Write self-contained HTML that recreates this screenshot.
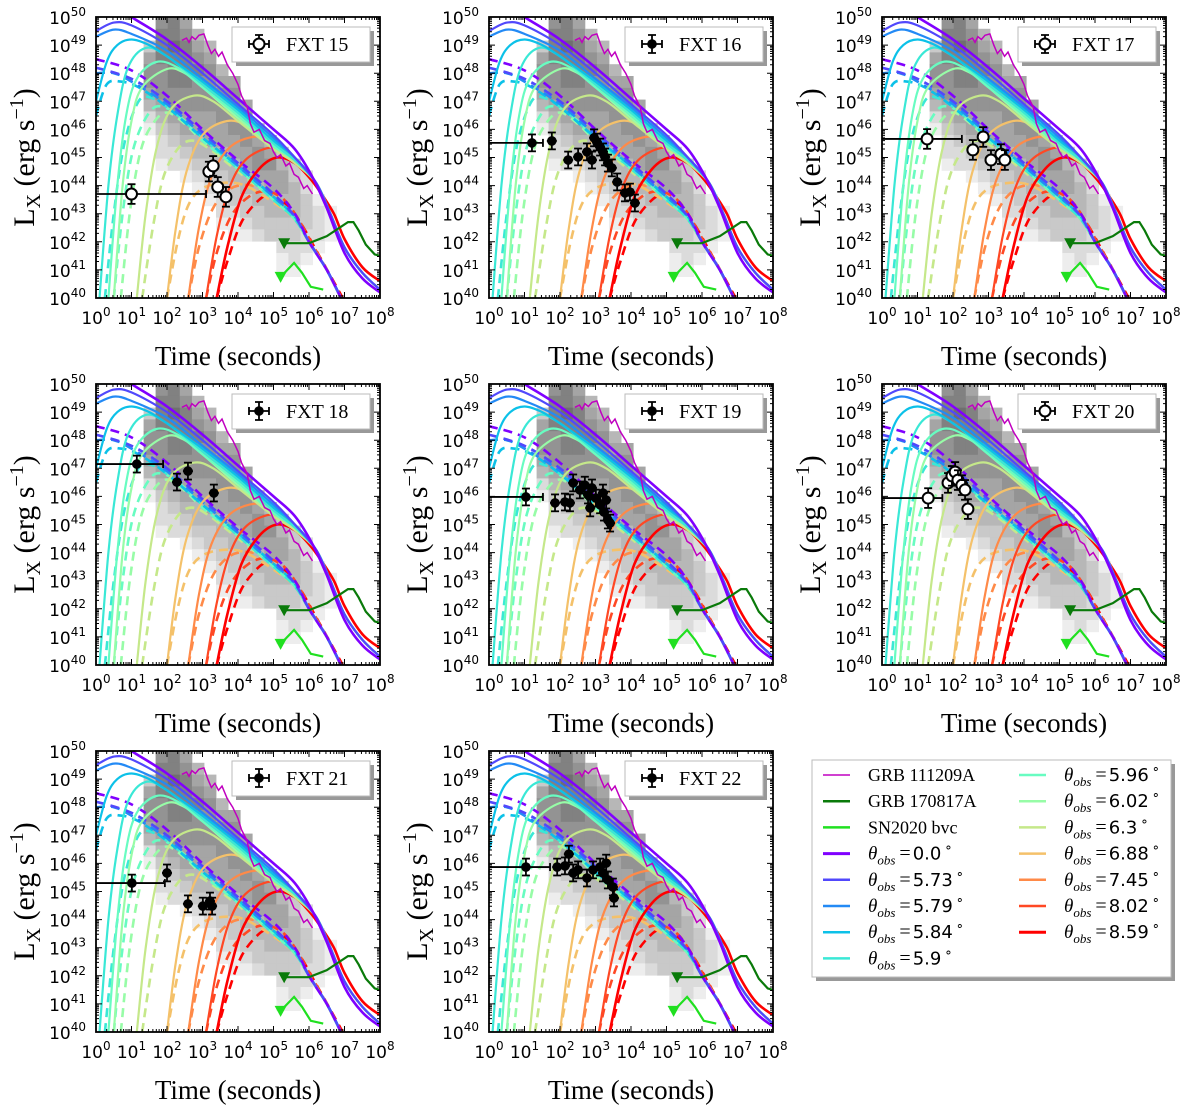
<!DOCTYPE html>
<html><head><meta charset="utf-8"><style>
html,body{margin:0;padding:0;background:#fff;}
svg{display:block;}
</style></head><body>
<svg id="fig" width="1200" height="1110" viewBox="0 0 1200 1110" xmlns="http://www.w3.org/2000/svg"></svg>
<script>
// ---------- data ----------
const thetaLabels = ["0.0","5.73","5.79","5.84","5.9","5.96","6.02","6.3","6.88","7.45","8.02","8.59"];
const thetaColors = ["#8000ff","#5148fc","#238af5","#0cc1e8","#3ae8d6","#68fcc1","#97fca7","#c5e88a","#f4c16a","#ff8a48","#ff4824","#ff0000"];
const tailA = [[6.6,43.0],[7,41.8],[7.5,40.9],[8,40.3]];
const solid0 = [[0.3,50.6],[1,50.0],[2,49.2],[3,48.2],[4,47.1],[5,46.0],[5.6,45.3],[6.1,44.3],[6.5,43.2],[7,41.6],[7.5,40.7],[8,40.2]];
const solid1 = [[0,49.5],[0.5,49.8],[1,49.7],[2,49.0],[3,48.0],[4,46.9],[5,45.8],[5.6,45.0],[6.2,44.1]];
const solid2 = [[0,49.3],[0.5,49.55],[1,49.4],[2,48.8],[3,47.8],[4,46.8],[5,45.7],[5.6,45.0],[6.2,44.1]];
const solid3 = [[0,47.0],[0.3,48.4],[0.6,49.0],[1,49.2],[1.5,49.0],[2,48.6],[3,47.7],[4,46.7],[5,45.6],[5.6,45.0],[6.2,44.1]];
const solid4 = [[0.1,40],[0.35,44],[0.6,46.5],[0.9,48.2],[1.4,48.9],[2,48.6],[3,47.6],[4,46.6],[5,45.5],[5.6,44.9],[6.2,44.1]];
const solid5 = [[0.35,40],[0.6,44],[0.85,46.5],[1.15,47.8],[1.7,48.4],[2.3,48.2],[3,47.5],[4,46.5],[5,45.4],[5.6,44.9],[6.2,44.1]];
const solid6 = [[0.5,40],[0.75,44],[1.0,46.3],[1.3,47.5],[2.0,48.15],[2.5,48.0],[3,47.5],[4,46.4],[5,45.4],[5.6,44.9],[6.2,44.1]];
const solid7 = [[1.15,40],[1.4,43],[1.7,45.3],[2.1,46.7],[2.75,47.2],[3.3,47.0],[4,46.3],[5,45.3],[5.6,44.8],[6.2,44.1]];
const solid8 = [[2.0,40],[2.25,42.5],[2.55,44.5],[3.0,45.8],[3.7,46.3],[4.3,46.1],[5,45.4],[5.6,44.8],[6.2,44.1]];
const solid9 = [[2.6,40],[2.9,42.5],[3.25,44.3],[3.8,45.4],[4.6,45.75],[5.2,45.4],[5.7,44.8],[6.2,44.1]];
const solid10 = [[3.1,40],[3.4,42.2],[3.75,43.9],[4.2,44.9],[4.9,45.35],[5.4,45.1],[5.8,44.6],[6.2,44.1]];
const solid11 = [[3.4,40],[3.7,41.8],[4.1,43.6],[4.6,44.6],[5.1,45.0],[5.6,44.8],[6.0,44.3],[6.3,43.8],[6.7,43.0],[7,42.1],[7.5,41.1],[8,40.6]];
const tailD = [[6.0,42.0],[6.5,41.0],[6.9,40.0]];
const dash0 = [[0,48.5],[1,48.1],[2,47.2],[3,46.0],[4,44.9],[5,43.9],[5.6,43.0]];
const dash1 = [[0,48.2],[1,47.8],[2,47.0],[3,45.9],[4,44.8],[5,43.7],[5.6,42.9]];
const dash2 = [[0,48.0],[0.5,48.0],[1,47.7],[2,46.9],[3,45.8],[4,44.7],[5,43.6],[5.6,42.9]];
const dash3 = [[0,46.5],[0.3,47.6],[0.7,47.7],[1.2,47.5],[2,46.8],[3,45.7],[4,44.7],[5,43.6],[5.6,42.9]];
const dash4 = [[0.25,40],[0.5,43],[0.8,45.5],[1.2,47.0],[1.6,47.1],[2.2,46.6],[3,45.7],[4,44.6],[5,43.5],[5.6,42.8]];
const dash5 = [[0.5,40],[0.75,43],[1.05,45.3],[1.5,46.6],[1.9,46.8],[2.5,46.3],[3,45.6],[4,44.6],[5,43.5],[5.6,42.8]];
const dash6 = [[0.7,40],[0.95,43],[1.25,45.2],[1.6,46.2],[2.0,46.6],[2.5,46.2],[3,45.6],[4,44.6],[5,43.5],[5.6,42.8]];
const dash7 = [[1.3,40],[1.6,42.5],[1.9,44.3],[2.3,45.3],[2.7,45.6],[3.2,45.3],[4,44.5],[5,43.5],[5.6,42.8]];
const dash8 = [[2.0,40],[2.3,42],[2.6,43.3],[3.0,43.9],[3.6,44.1],[4.2,44.0],[5,43.4],[5.6,42.8]];
const dash9 = [[2.6,40],[2.9,41.8],[3.3,43.2],[3.8,43.9],[4.4,44.0],[5,43.6],[5.6,42.8]];
const dash10 = [[3.1,40],[3.4,41.6],[3.8,42.9],[4.3,43.6],[4.8,43.8],[5.3,43.5],[5.7,42.8],[6.1,41.9],[6.5,41.0],[6.9,40.0]];
const dash11 = [[3.4,40],[3.7,41.3],[4.1,42.7],[4.6,43.5],[4.9,43.6],[5.4,43.3],[5.8,42.6],[6.2,41.7],[6.6,40.8],[6.95,40.0]];
const solids = [solid0,solid1,solid2,solid3,solid4,solid5,solid6,solid7,solid8,solid9,solid10,solid11];
const dashes = [dash0,dash1,dash2,dash3,dash4,dash5,dash6,dash7,dash8,dash9,dash10,dash11];
const grb111209 = [[2.42,49.17],[2.55,49.25],[2.62,49.1],[2.7,49.3],[2.8,49.2],[2.9,49.35],[3.04,49.4],[3.15,49.0],[3.25,48.7],[3.35,48.85],[3.45,48.6],[3.55,48.75],[3.7,48.3],[3.85,48.0],[4.0,47.6],[4.1,47.2],[4.26,46.8],[4.35,46.2],[4.45,45.9],[4.6,46.0],[4.75,45.6],[4.9,45.5],[5.0,45.2],[5.1,45.0],[5.2,45.1],[5.35,44.7],[5.45,44.8],[5.58,44.4],[5.7,44.3],[5.85,43.9],[5.95,44.0],[6.1,43.7]];
const grb170817 = [[5.3,41.95],[6.0,41.95],[6.5,42.2],[7.1,42.7],[7.25,42.7],[7.4,42.4],[7.6,41.9],[7.85,41.55],[8.0,41.5]];
const sn2020bvc = [[5.2,40.75],[5.58,41.25],[5.8,40.9],[6.05,40.4],[6.4,40.3]];
const heatStartT = 1.34, heatStepT = 0.34, heatStepL = 0.42;
const heatStartRow = [2,0,0,0,1,2,4,5,7,9,10,11,12,13,15,16];
const heatLevels = ["35665421","6777666543221","7787776654322","56777766554321","45676665544321","45666655543321","45666554433221","56666554433211","566655443321","4566544332","456554433","34554433211","3344433221","22333221","12221","111"];
// panel data
const panelNames = ["FXT 15","FXT 16","FXT 17","FXT 18","FXT 19","FXT 20","FXT 21","FXT 22"];
const panelOpen = [true,false,true,false,false,true,false,false];
const fxt15T = [1.0,3.18,3.3,3.43,3.66];
const fxt15L = [43.7,44.5,44.7,43.95,43.6];
const fxt16T = [1.21,1.77,2.23,2.51,2.76,2.96,3.04,2.9,3.13,3.21,3.27,3.35,3.46,3.61,3.83,3.97,4.11];
const fxt16L = [45.52,45.59,44.91,45.02,45.2,45.7,45.55,44.91,45.37,45.2,45.02,44.8,44.63,44.13,43.74,43.77,43.38];
const fxt17T = [1.27,2.56,2.85,3.07,3.35,3.46];
const fxt17L = [45.66,45.27,45.73,44.91,45.12,44.91];
const fxt18T = [1.15,2.28,2.59,3.32];
const fxt18L = [47.15,46.51,46.9,46.12];
const fxt19T = [1.04,1.86,2.14,2.28,2.37,2.56,2.7,2.79,2.9,3.01,2.85,3.13,3.24,3.35,3.41,3.3,3.21];
const fxt19L = [45.98,45.77,45.8,45.77,46.48,46.23,46.4,46.05,46.3,45.94,45.59,45.7,45.44,45.16,45.05,45.87,46.12];
const fxt20T = [1.3,1.86,1.97,2.06,2.14,2.25,2.34,2.42];
const fxt20L = [45.94,46.48,46.73,46.87,46.58,46.4,46.23,45.55];
const fxt21T = [1.01,2.0,2.59,3.01,3.21,3.27];
const fxt21L = [45.3,45.66,44.56,44.48,44.66,44.48];
const fxt22T = [1.04,1.92,2.14,2.25,2.37,2.51,2.76,2.93,3.13,3.21,3.3,3.35,3.49,3.52];
const fxt22L = [45.87,45.87,45.91,46.33,45.66,45.77,45.48,45.77,45.87,45.66,46.01,45.41,45.16,44.77];
const firstXerr = [[0,3.1],[0,1.52],[0,2.25],[0,1.89],[0,1.52],[0,1.7],[0,1.94],[0,1.72]];
const panelT = [fxt15T,fxt16T,fxt17T,fxt18T,fxt19T,fxt20T,fxt21T,fxt22T];
const panelL = [fxt15L,fxt16L,fxt17L,fxt18L,fxt19L,fxt20L,fxt21L,fxt22L];
const xTickExp = [0,1,2,3,4,5,6,7,8];
const yTickExp = [40,41,42,43,44,45,46,47,48,49,50];

// ---------- drawing ----------
const NS="http://www.w3.org/2000/svg";
const fig=document.getElementById('fig');
function mk(tag,attrs,parent){const e=document.createElementNS(NS,tag);for(const k in attrs)e.setAttribute(k,attrs[k]);(parent||fig).appendChild(e);return e;}
const W=284,H=281;
const colX=[96,489,882], rowY=[17,384,751];
function smoothPath(pts,sx,sy){
  const p=pts.map(q=>[sx(q[0]),sy(q[1])]);
  let d=`M${p[0][0].toFixed(1)},${p[0][1].toFixed(1)}`;
  for(let i=0;i<p.length-1;i++){
    const p0=p[Math.max(0,i-1)],p1=p[i],p2=p[i+1],p3=p[Math.min(p.length-1,i+2)];
    const c1x=p1[0]+(p2[0]-p0[0])/6,c1y=p1[1]+(p2[1]-p0[1])/6;
    const c2x=p2[0]-(p3[0]-p1[0])/6,c2y=p2[1]-(p3[1]-p1[1])/6;
    d+=`C${c1x.toFixed(1)},${c1y.toFixed(1)} ${c2x.toFixed(1)},${c2y.toFixed(1)} ${p2[0].toFixed(1)},${p2[1].toFixed(1)}`;
  }
  return d;
}
function linePath(pts,sx,sy){return pts.map((q,i)=>(i?'L':'M')+sx(q[0]).toFixed(1)+','+sy(q[1]).toFixed(1)).join('');}

function drawPanel(idx){
  const x0=colX[idx%3], y0=rowY[Math.floor(idx/3)];
  const sx=t=>x0+t*W/8, sy=l=>y0+(50-l)*H/10;
  const g=mk('g',{});
  
  
  const cid='clip'+idx;
  const cp=mk('clipPath',{id:cid},g); mk('rect',{x:x0,y:y0,width:W,height:H},cp);
  const pg=mk('g',{'clip-path':`url(#${cid})`},g);
  const hg=mk('g',{},pg);
  
  
  heatLevels.forEach((s,c)=>{
    for(let r=0;r<s.length;r++){
      const lv=+s[r]; if(!lv) continue;
      const t0=heatStartT+c*heatStepT, lTop=50-(heatStartRow[c]+r)*heatStepL;
      const gv=Math.round(255-lv*18);
      const cell=mk('rect',{x:sx(t0).toFixed(1),y:sy(lTop).toFixed(1),width:(heatStepT*W/8+0.4).toFixed(1),height:(heatStepL*H/10+0.4).toFixed(1),fill:`rgb(${gv},${gv},${gv})`},hg);
      
      
    }
  });
  for(let i=11;i>=0;i--){
    const pts=dashes[i][dashes[i].length-1][1]>40.5?dashes[i].concat(tailD):dashes[i];
    const e=mk('path',{d:smoothPath(pts,sx,sy),fill:'none',stroke:thetaColors[i],'stroke-width':2.6,'stroke-dasharray':'9,6'},pg);
    
    
  }
  for(let i=11;i>=0;i--){
    const pts=solids[i][solids[i].length-1][0]<6.5?solids[i].concat(tailA):solids[i];
    const e=mk('path',{d:smoothPath(pts,sx,sy),fill:'none',stroke:thetaColors[i],'stroke-width':(i==0||i==11)?2.6:2.2},pg);
    
    
  }
  let e=mk('path',{d:linePath(grb111209,sx,sy),fill:'none',stroke:'#c000c0','stroke-width':1.5},pg);
   
  e=mk('path',{d:linePath(grb170817,sx,sy),fill:'none',stroke:'#0a7a0a','stroke-width':2.2},pg);
   
  e=mk('path',{d:linePath(sn2020bvc,sx,sy),fill:'none',stroke:'#20e020','stroke-width':2.2},pg);
   
  const tri=(t,l,col,nm)=>{const X=sx(t),Y=sy(l);const m=mk('path',{d:`M${X-6},${Y-5}L${X+6},${Y-5}L${X},${Y+6}Z`,fill:col},pg);};
  tri(grb170817[0][0],grb170817[0][1],'#0a7a0a','grb-170817a-upper-limit');
  tri(sn2020bvc[0][0],sn2020bvc[0][1],'#20e020','sn2020bvc-upper-limit');
  const dg=mk('g',{},g);
  
  
  const T=panelT[idx],L=panelL[idx],open=panelOpen[idx];
  T.forEach((t,i)=>{
    const X=sx(t),Y=sy(L[i]);
    const pt=mk('g',{},dg);
    
    
    const ye=open?0.35:0.3;
    mk('line',{x1:X,y1:sy(L[i]+ye),x2:X,y2:sy(L[i]-ye),stroke:'#000','stroke-width':1.8},pt);
    mk('line',{x1:X-4,y1:sy(L[i]+ye),x2:X+4,y2:sy(L[i]+ye),stroke:'#000','stroke-width':1.8},pt);
    mk('line',{x1:X-4,y1:sy(L[i]-ye),x2:X+4,y2:sy(L[i]-ye),stroke:'#000','stroke-width':1.8},pt);
    if(i===0){
      const a=sx(firstXerr[idx][0]),b=sx(firstXerr[idx][1]);
      mk('line',{x1:a,y1:Y,x2:b,y2:Y,stroke:'#000','stroke-width':1.8},pt);
      mk('line',{x1:b,y1:Y-4,x2:b,y2:Y+4,stroke:'#000','stroke-width':1.8},pt);
    } else {
      mk('line',{x1:X-5,y1:Y,x2:X+5,y2:Y,stroke:'#000','stroke-width':1.8},pt);
    }
    if(open) mk('circle',{cx:X,cy:Y,r:5.5,fill:'#fff',stroke:'#000','stroke-width':2},pt);
    else mk('circle',{cx:X,cy:Y,r:4.8,fill:'#000'},pt);
  });
  mk('rect',{x:x0,y:y0,width:W,height:H,fill:'none',stroke:'#000','stroke-width':1.8},g);
  const tk=[];
  xTickExp.forEach(k=>{const X=sx(k);tk.push(`M${X},${y0+H}v-6M${X},${y0}v6`);
    if(k<8)for(let m=2;m<10;m++){const Xm=sx(k+Math.log10(m));tk.push(`M${Xm},${y0+H}v-3M${Xm},${y0}v3`);}});
  yTickExp.forEach(k=>{const Y=sy(k);tk.push(`M${x0},${Y}h6M${x0+W},${Y}h-6`);
    if(k<50)for(let m=2;m<10;m++){const Ym=sy(k+Math.log10(m));tk.push(`M${x0},${Ym}h3M${x0+W},${Ym}h-3`);}});
  mk('path',{d:tk.join(''),stroke:'#000','stroke-width':1,fill:'none'},g);
  xTickExp.forEach(k=>{const tx=mk('text',{x:sx(k),y:y0+H+26,'text-anchor':'middle','font-family':'"DejaVu Sans",sans-serif','font-size':17,fill:'#000'},g);
     
    tx.innerHTML=`10<tspan dy="-8" font-size="12">${k}</tspan>`;});
  yTickExp.forEach(k=>{const tx=mk('text',{x:x0-10,y:sy(k)+7,'text-anchor':'end','font-family':'"DejaVu Sans",sans-serif','font-size':17,fill:'#000'},g);
     
    tx.innerHTML=`10<tspan dy="-8" font-size="12">${k}</tspan>`;});
  let at=mk('text',{x:x0+W/2,y:y0+H+67,'text-anchor':'middle','font-family':'"Liberation Serif",serif','font-size':27,fill:'#000'},g);
   
  at.textContent='Time (seconds)';
  at=mk('text',{x:0,y:0,'text-anchor':'middle','font-family':'"Liberation Serif",serif','font-size':30,fill:'#000',transform:`translate(${x0-62},${y0+H/2}) rotate(-90)`},g);
   
  at.innerHTML='L<tspan dy="6" font-size="20">X</tspan><tspan dy="-6"> (erg s</tspan><tspan dy="-11" font-size="20">−1</tspan><tspan dy="11">)</tspan>';
  const lg=mk('g',{},g);
   
  const bx=x0+136,by=y0+10;
  mk('rect',{x:bx+4,y:by+4,width:138,height:35,fill:'#999'},lg);
  mk('rect',{x:bx,y:by,width:138,height:35,fill:'#fff',stroke:'#bbb','stroke-width':1},lg);
  const mx=bx+27,my=by+17;
  mk('path',{d:`M${mx-10},${my}h20M${mx},${my-9}v18M${mx-4},${my-9}h8M${mx-4},${my+9}h8M${mx-10},${my-4}v8M${mx+10},${my-4}v8`,stroke:'#000','stroke-width':1.8,fill:'none'},lg);
  if(open) mk('circle',{cx:mx,cy:my,r:5.5,fill:'#fff',stroke:'#000','stroke-width':2},lg);
  else mk('circle',{cx:mx,cy:my,r:4.8,fill:'#000'},lg);
  const lt=mk('text',{x:bx+54,y:my+7,'font-family':'"Liberation Serif",serif','font-size':20,fill:'#000'},lg);
   
  lt.textContent=panelNames[idx];
}
for(let i=0;i<8;i++) drawPanel(i);

// ---------- big legend ----------
const LG=mk('g',{});


mk('rect',{x:816,y:764,width:359,height:217,fill:'#999'},LG);
mk('rect',{x:812,y:760,width:359,height:217,fill:'#fff',stroke:'#bbb','stroke-width':1},LG);
const legItems=[["GRB 111209A","#c000c0",1.5,null],["GRB 170817A","#0a7a0a",2.5,null],["SN2020 bvc","#20e020",2.5,null]];
thetaLabels.forEach((t,i)=>legItems.push([null,thetaColors[i],i==0||i==11?3:2.5,t]));
legItems.forEach((it,i)=>{
  const col=i<8?0:1, row=i<8?i:i-8;
  const lx=col?1019:823, tx=col?1064:868, y=775+row*26.2;
  const en=mk('g',{},LG);
  
  
  mk('line',{x1:lx,y1:y,x2:lx+27,y2:y,stroke:it[1],'stroke-width':it[2]},en);
  const te=mk('text',{x:tx,y:y+6,'font-family':'"Liberation Serif",serif','font-size':18,fill:'#000'},en);
  if(it[0]) te.textContent=it[0];
  else te.innerHTML=`<tspan font-style="italic" font-size="19">θ</tspan><tspan font-style="italic" font-size="13" dy="5">obs</tspan><tspan dy="-5" dx="4" font-size="20">=</tspan><tspan font-family="'DejaVu Sans',sans-serif" font-size="18" dx="2">${it[3]}</tspan><tspan font-size="13" dy="-8" dx="3">∘</tspan>`;
});
</script>
</body></html>
